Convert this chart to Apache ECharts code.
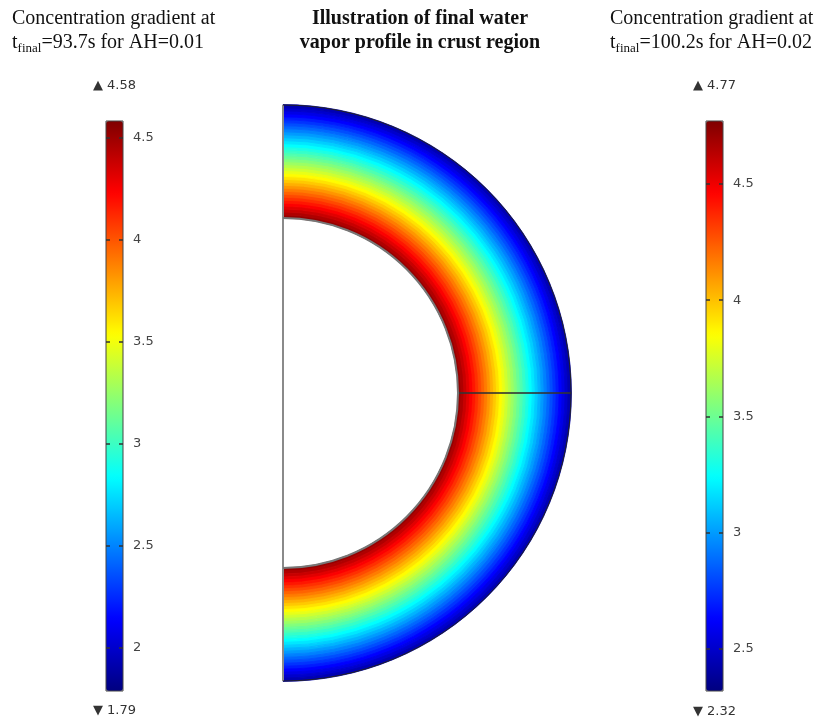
<!DOCTYPE html>
<html><head><meta charset="utf-8">
<script src="https://cdn.jsdelivr.net/npm/echarts@6/dist/echarts.min.js"></script>
<style>html,body{margin:0;padding:0;background:#fff}#c{width:816px;height:724px}</style>
</head><body><div id="c"></div>
<script>
// Concentration per ring, from inner crust edge (first) to outer surface (last)
const ringConcentration = [4.52, 4.45, 4.38, 4.31, 4.24, 4.17, 4.10, 4.03, 3.96, 3.89,
  3.82, 3.75, 3.68, 3.61, 3.54, 3.47, 3.40, 3.33, 3.26, 3.19,
  3.12, 3.05, 2.98, 2.91, 2.84, 2.77, 2.70, 2.63, 2.56, 2.49,
  2.42, 2.35, 2.28, 2.21, 2.14, 2.07, 2.00, 1.93];
const halfAngle = 180;                 // extent of the half annulus (degrees)
const leftRange = [1.79, 4.58];        // AH=0.01 colour range
const rightRange = [2.32, 4.77];       // AH=0.02 colour range
const leftTicks = [2, 2.5, 3, 3.5, 4, 4.5];
const rightTicks = [2.5, 3, 3.5, 4, 4.5];
const leftTitle = ['Concentration gradient at', 't{sub|final}=93.7s for AH=0.01'];
const rightTitle = ['Concentration gradient at', 't{sub|final}=100.2s for AH=0.02'];
const midTitle = ['Illustration of final water', 'vapor profile in crust region'];
const jet = ['#00007F', '#0000FF', '#007FFF', '#00FFFF', '#7FFF7F', '#FFFF00', '#FF7F00', '#FF0000', '#7F0000'];

// layout constants
const C = [283, 393], R_IN = 175, R_OUT = 288;
const BAR_TOP = 121, BAR_H = 570, BAR_W = 17, LBAR_X = 106, RBAR_X = 706;

const chart = echarts.init(document.getElementById('c'), null, {renderer: 'canvas'});
const ringData = ringConcentration.map((v, i) => [i, halfAngle, v]);

function barAxes(gi, rng, ticks) {
  return [
    {type: 'value', gridIndex: gi, position: 'left', min: rng[0], max: rng[1], z: 10,
     axisLine: {show: false}, splitLine: {show: false}, axisLabel: {show: false},
     axisTick: {show: true, inside: true, length: 4, lineStyle: {color: '#333', width: 1.5}, customValues: ticks}},
    {type: 'value', gridIndex: gi, position: 'right', min: rng[0], max: rng[1], z: 10,
     axisLine: {show: false}, splitLine: {show: false},
     axisTick: {show: true, inside: true, length: 4, lineStyle: {color: '#333', width: 1.5}, customValues: ticks},
     axisLabel: {show: true, margin: 10, color: '#444', fontFamily: 'DejaVu Sans', fontSize: 13, customValues: ticks}}
  ];
}
function titleText(x, y, lines, align, bold) {
  return {type: 'text', x: x, y: y, z: 20,
    style: {text: lines.join('\n'), align: align, fill: '#111', lineHeight: 24,
      font: (bold ? 'bold ' : '') + '20px "Liberation Serif", serif',
      rich: {sub: {fontSize: 13, fontFamily: 'Liberation Serif', fill: '#111', verticalAlign: 'bottom', padding: [9, 0, 0, 0]}}}};
}
function endText(x, y, t) {
  return {type: 'text', x: x, y: y, z: 20,
    style: {text: t, align: 'center', verticalAlign: 'middle', fill: '#333', font: '13px "DejaVu Sans", sans-serif'}};
}

function renderRing(params, api) {
  const i = api.value(0);
  const p0 = api.coord([i, 0]);
  const p1 = api.coord([i, api.value(1)]);
  const bw = api.size([1, 0], [i, 0])[0];
  const cx = params.coordSys.cx, cy = params.coordSys.cy;
  const r = Math.hypot(p0[0] - cx, p0[1] - cy);
  const col = api.visual('color');
  return {type: 'sector',
    shape: {cx: cx, cy: cy, r0: r - bw / 2, r: r + bw / 2 + 0.4,
      startAngle: Math.atan2(p0[1] - cy, p0[0] - cx), endAngle: Math.atan2(p1[1] - cy, p1[0] - cx), clockwise: true},
    style: {fill: col, stroke: col, lineWidth: 0.8}};
}

chart.setOption({
  animation: false,
  backgroundColor: '#fff',
  grid: [
    {left: LBAR_X, top: BAR_TOP, width: BAR_W, height: BAR_H, show: true, z: 10, borderColor: '#444', borderWidth: 1, backgroundColor: 'transparent'},
    {left: RBAR_X, top: BAR_TOP, width: BAR_W, height: BAR_H, show: true, z: 10, borderColor: '#444', borderWidth: 1, backgroundColor: 'transparent'}
  ],
  xAxis: [{type: 'value', gridIndex: 0, show: false}, {type: 'value', gridIndex: 1, show: false}],
  yAxis: barAxes(0, leftRange, leftTicks).concat(barAxes(1, rightRange, rightTicks)),
  polar: {center: C, radius: [R_IN, R_OUT]},
  angleAxis: {type: 'value', min: 0, max: 360, startAngle: 90, clockwise: true, show: false},
  radiusAxis: {type: 'category', data: ringConcentration.map((v, i) => i), show: false},
  visualMap: [
    {type: 'continuous', min: leftRange[0], max: leftRange[1], dimension: 2, seriesIndex: 0,
     calculable: false, left: LBAR_X, top: BAR_TOP, itemWidth: BAR_W, itemHeight: BAR_H, padding: 0,
     text: null, showLabel: false, inRange: {color: jet}, hoverLink: false},
    {type: 'continuous', min: rightRange[0], max: rightRange[1], seriesIndex: [],
     calculable: false, left: RBAR_X, top: BAR_TOP, itemWidth: BAR_W, itemHeight: BAR_H, padding: 0,
     text: null, showLabel: false, inRange: {color: jet}, hoverLink: false}
  ],
  series: [{
    type: 'custom', coordinateSystem: 'polar', data: ringData,
    encode: {radius: 0, angle: 1}, renderItem: renderRing, silent: true
  }],
  graphic: [
    titleText(12, 7, leftTitle, 'left', false),
    titleText(420, 7, midTitle, 'center', true),
    titleText(610, 7, rightTitle, 'left', false),
    endText(LBAR_X + BAR_W / 2, 86, '▲ ' + leftRange[1]),
    endText(LBAR_X + BAR_W / 2, 711, '▼ ' + leftRange[0]),
    endText(RBAR_X + BAR_W / 2, 86, '▲ ' + rightRange[1]),
    endText(RBAR_X + BAR_W / 2, 712, '▼ ' + rightRange[0]),
    {type: 'line', z: 30, shape: {x1: C[0], y1: C[1] - R_OUT, x2: C[0], y2: C[1] + R_OUT}, style: {stroke: '#8a8a8a', lineWidth: 2}},
    {type: 'line', z: 30, shape: {x1: C[0] + R_IN, y1: C[1], x2: C[0] + R_OUT, y2: C[1]}, style: {stroke: '#333', lineWidth: 2, opacity: 0.8}},
    {type: 'arc', z: 30, shape: {cx: C[0], cy: C[1], r: R_IN, startAngle: -Math.PI / 2, endAngle: Math.PI / 2}, style: {stroke: '#777', lineWidth: 2, fill: null}},
    {type: 'arc', z: 30, shape: {cx: C[0], cy: C[1], r: R_OUT, startAngle: -Math.PI / 2, endAngle: Math.PI / 2}, style: {stroke: '#222', lineWidth: 1, fill: null}}
  ]
});
</script></body></html>
